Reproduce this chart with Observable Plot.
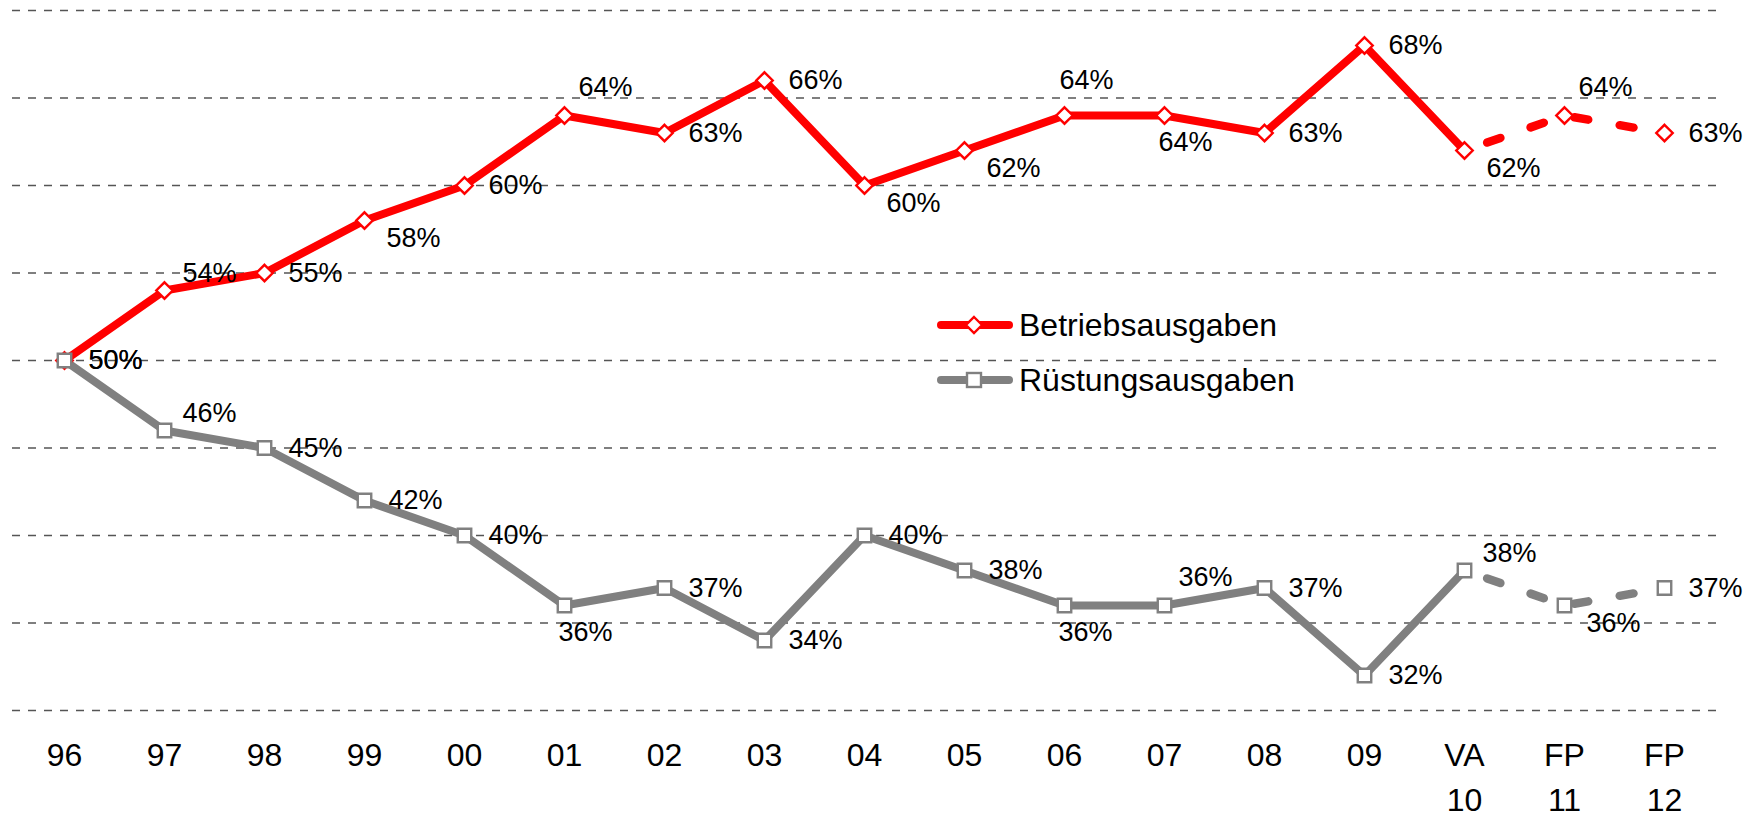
<!DOCTYPE html>
<html><head><meta charset="utf-8">
<script src="https://cdn.jsdelivr.net/npm/d3@7"></script>
<script src="https://cdn.jsdelivr.net/npm/@observablehq/plot@0.6"></script>
<style>
html,body{margin:0;padding:0;background:#fff;}
#wrap{position:relative;width:1758px;height:818px;font-family:"Liberation Sans",Arial,sans-serif;}
.leg{position:absolute;left:937px;display:flex;align-items:center;height:40px;font-size:32px;color:#000;white-space:nowrap;}
.leg span{margin-left:2px;}
</style></head><body><div id="wrap"></div>
<script>
const categories = ["96","97","98","99","00","01","02","03","04","05","06","07","08","09","VA 10","FP 11","FP 12"];
const betriebsausgaben = [50,54,55,58,60,64,63,66,60,62,64,64,63,68,62,64,63];
const ruestungsausgaben = [50,46,45,42,40,36,37,34,40,38,36,36,37,32,38,36,37];
const gridValues = [30,35,40,45,50,55,60,65,70];
const firstProjected = "VA 10";
const betriebsLabelPos = ["E","ENE","E","SE","E","NE","E","E","SE","SE","N","S","E","E","SE","NE","E"];
const ruestungsLabelPos = ["E","ENE","E","E","E","S","E","E","E","E","S","NE","E","E","ENE","SE","E"];

const series = [
  {name:"Betriebsausgaben", values:betriebsausgaben, pos:betriebsLabelPos, color:"#ff0000", symbol:"diamond2", r:7.4, legendTop:305},
  {name:"Rüstungsausgaben", values:ruestungsausgaben, pos:ruestungsLabelPos, color:"#808080", symbol:"square", r:7.6, legendTop:360}
];
const projIndex = categories.indexOf(firstProjected);
const rows = series.flatMap(s => categories.map((c,i) => ({cat:c, value:s.values[i], series:s.name, pos:s.pos[i], i})));
const offsets = {E:[24,0], ENE:[18,-17], NE:[14,-28], N:[-5,-35], SE:[22,18], S:[-6,27]};

const marks = [
  Plot.ruleY(gridValues, {stroke:"#555", strokeWidth:1.3, strokeDasharray:"8,8"})
];
for (const s of series) {
  const rs = rows.filter(d => d.series === s.name);
  marks.push(Plot.line(rs.filter(d => d.i <= projIndex), {x:"cat", y:"value", stroke:s.color, strokeWidth:8, strokeLinejoin:"miter"}));
  marks.push(Plot.line(rs.filter(d => d.i >= projIndex), {x:"cat", y:"value", stroke:s.color, strokeWidth:8.5, strokeDasharray:"14,32", strokeDashoffset:22}));
}
for (const s of series) {
  marks.push(Plot.dot(rows.filter(d => d.series === s.name), {x:"cat", y:"value", symbol:s.symbol, r:s.r, fill:"white", stroke:s.color, strokeWidth:2.4}));
}
for (const [code,[dx,dy]] of Object.entries(offsets)) {
  marks.push(Plot.text(rows.filter(d => d.pos === code), {x:"cat", y:"value", text:d => d.value + "%", dx, dy, textAnchor:"start", fontSize:27, fill:"black"}));
}
marks.push(Plot.axisX({tickSize:0, tickPadding:24, fontSize:32, lineHeight:1.4, label:null, tickFormat:d => d.replace(" ","\n"), fill:"black"}));

const chart = Plot.plot({
  width:1758, height:818,
  marginTop:10, marginBottom:108, marginLeft:12, marginRight:42,
  x:{type:"point", domain:categories, padding:0.5, label:null},
  y:{domain:[30,70], axis:null},
  style:{fontFamily:"'Liberation Sans', Arial, sans-serif", background:"white", overflow:"visible"},
  marks
});
const wrap = document.getElementById("wrap");
wrap.appendChild(chart);

for (const s of series) {
  const row = document.createElement("div");
  row.className = "leg";
  row.style.top = s.legendTop + "px";
  const marker = s.symbol === "square"
    ? `<rect x="30" y="13" width="14" height="14" fill="#fff" stroke="${s.color}" stroke-width="2.4"/>`
    : `<path d="M37,12 L45,20 L37,28 L29,20Z" fill="#fff" stroke="${s.color}" stroke-width="2.4"/>`;
  row.innerHTML = `<svg width="80" height="40"><line x1="4" y1="20" x2="72" y2="20" stroke="${s.color}" stroke-width="8" stroke-linecap="round"/>${marker}</svg>`;
  const span = document.createElement("span");
  span.textContent = s.name;
  row.appendChild(span);
  wrap.appendChild(row);
}
</script></body></html>
